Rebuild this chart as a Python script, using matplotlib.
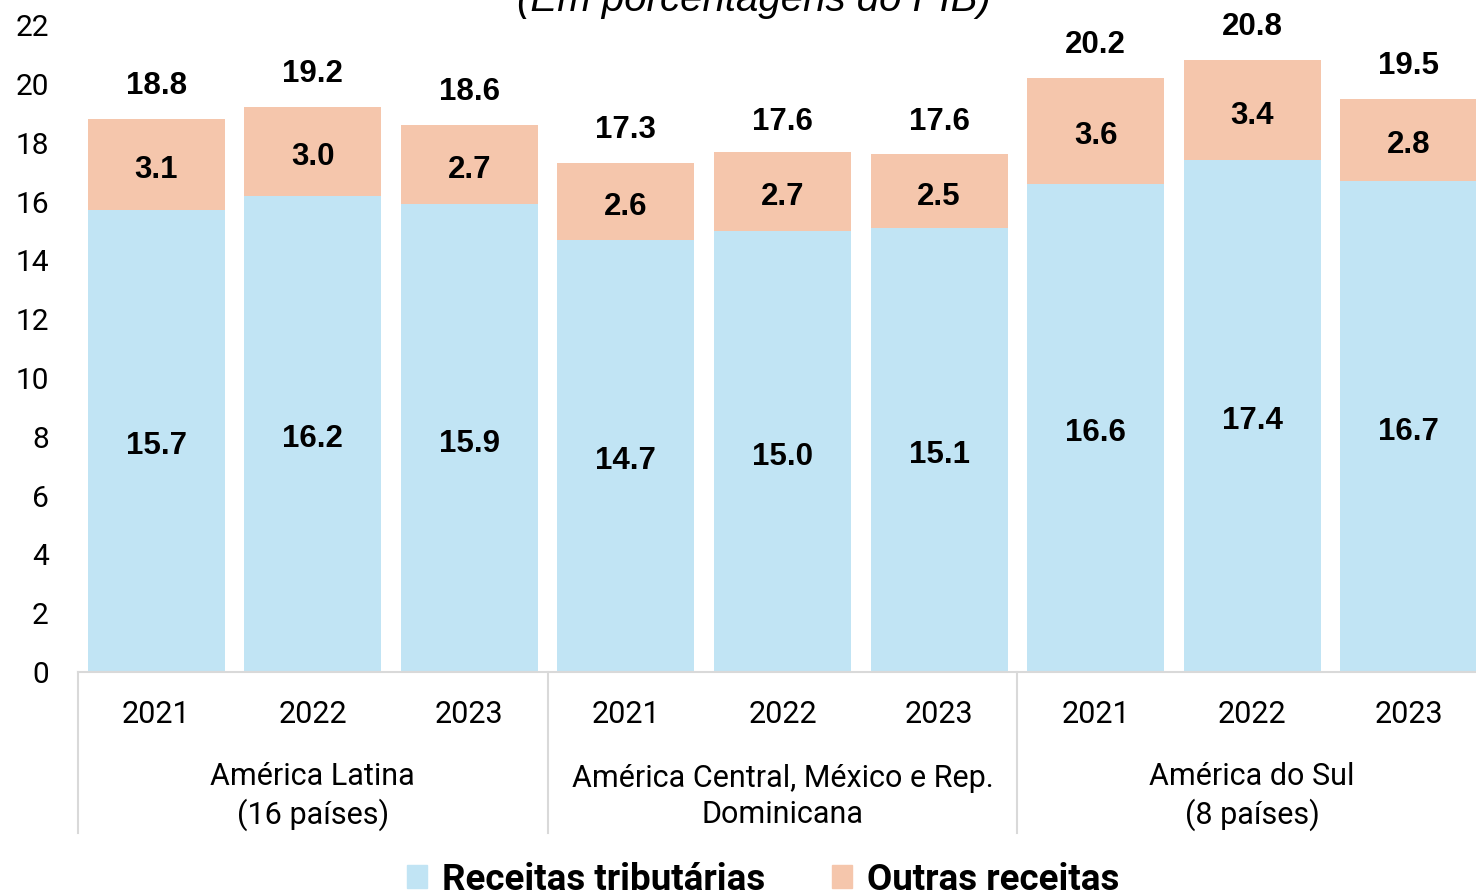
import matplotlib.pyplot as plt
from matplotlib.patches import Patch

# data
groups = ["América Latina\n(16 países)", "América Central, México e Rep.\nDominicana", "América do Sul\n(8 países)"]
years = ["2021", "2022", "2023"] * 3
tributarias = [15.7, 16.2, 15.9, 14.7, 15.0, 15.1, 16.6, 17.4, 16.7]
outras = [3.1, 3.0, 2.7, 2.6, 2.7, 2.5, 3.6, 3.4, 2.8]
totais = [18.8, 19.2, 18.6, 17.3, 17.6, 17.6, 20.2, 20.8, 19.5]

blue = "#C1E4F4"
peach = "#F5C6AC"
grey = "#D9D9D9"

plt.rcParams["font.family"] = ["Roboto", "DejaVu Sans"]

fig = plt.figure(figsize=(14.76, 8.92), dpi=100)
ax = fig.add_axes([0.0528, 0.2466, 0.9547, 0.7253])

x = list(range(len(tributarias)))
ax.bar(x, tributarias, width=0.875, color=blue)
ax.bar(x, outras, bottom=tributarias, width=0.875, color=peach)

# labels sit a touch below the segment middle, like the original
lbl = dict(ha="center", va="center", fontsize=22.5, fontweight="bold", family=["Liberation Sans"])
for i in x:
    ax.text(i, tributarias[i] / 2 - 0.18, f"{tributarias[i]:.1f}", **lbl)
    ax.text(i, tributarias[i] + outras[i] / 2 - 0.18, f"{outras[i]:.1f}", **lbl)
    ax.text(i, totais[i] + 1.12, f"{totais[i]:.1f}", **lbl)

ax.set_xlim(-0.5, 8.5)
ax.set_ylim(0, 22)
ax.set_yticks(range(0, 23, 2))
ax.tick_params(axis="y", length=0, labelsize=21.5, pad=21)
ax.set_xticks([])
for s in ["top", "right", "left"]:
    ax.spines[s].set_visible(False)
ax.spines["bottom"].set_color(grey)
ax.spines["bottom"].set_linewidth(1.5)

trans = ax.get_xaxis_transform()
for i in x:
    ax.text(i, -0.065, years[i], ha="center", va="center", fontsize=22, transform=trans)
for g, name in enumerate(groups):
    ax.text(g * 3 + 1, -0.193, name, ha="center", va="center", fontsize=22,
            linespacing=1.3, transform=trans)
for sep in [-0.5, 2.5, 5.5]:
    ax.plot([sep, sep], [0, -0.249], color=grey, lw=1.5, transform=trans, clip_on=False)

fig.text(0.511, 1.0, "(Em porcentagens do PIB)", ha="center", va="center",
         fontsize=29, style="italic", family=["Liberation Sans"])

handles = [Patch(color=blue, label="Receitas tributárias"), Patch(color=peach, label="Outras receitas")]
fig.legend(handles=handles, loc="center", bbox_to_anchor=(0.517, 0.014), ncol=2, frameon=False,
           prop={"size": 26.5, "weight": "bold"}, handlelength=0.55, handleheight=0.55,
           handletextpad=0.4, columnspacing=1.8)

fig.savefig("out.png", dpi=100)
